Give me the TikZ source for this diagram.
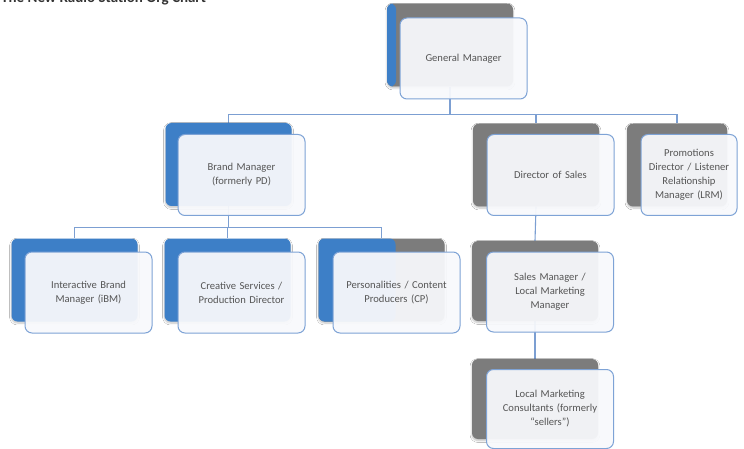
\documentclass[tikz,border=0pt]{standalone}
\usepackage{fontspec}
\setmainfont{Carlito}
\usetikzlibrary{backgrounds,shadows.blur}
\definecolor{bkblue}{HTML}{3D7FC7}
\definecolor{bkgray}{HTML}{7C7C7C}
\definecolor{frline}{HTML}{7EA3D6}
\definecolor{frfill}{HTML}{F8F9FC}
\definecolor{txt}{HTML}{555555}
\definecolor{conn}{HTML}{7C9FD2}
\tikzset{
  backbox/.style={rounded corners=6pt, minimum width=126pt, minimum height=83pt, inner sep=0pt,
    blur shadow={shadow xshift=0pt, shadow yshift=-1.5pt, shadow blur steps=6, shadow opacity=25}},
  bgray/.style={backbox, fill=bkgray},
  bblue/.style={backbox, fill=bkblue},
  frontbox/.style={draw=frline, line width=1pt, rounded corners=7pt, fill=frfill, fill opacity=0.94,
    text opacity=1, minimum width=127pt, minimum height=81pt, align=center, text width=118pt,
    inner sep=0pt, text=txt, font=\fontsize{10.6}{14}\selectfont},
  conline/.style={draw=conn, line width=1.1pt}
}
\begin{document}
\begin{tikzpicture}[x=1pt,y=-1pt]
\useasboundingbox (0,0) rectangle (744,449);
\node[anchor=base west, inner sep=0pt, text=black!80, font=\fontsize{15}{18}\selectfont\bfseries] (title) at (1,3) {The New Radio Station Org Chart};

% back boxes
\node[bgray, path picture={\fill[bkblue] (path picture bounding box.north west) rectangle ([xshift=9pt]path picture bounding box.south west);}] (gmb) at (450,45) {};
\node[bblue] (bmb) at (228.5,164.5) {};
\node[bgray] (dsb) at (536,165) {};
\node[bgray, minimum width=100pt] (prb) at (677,165) {};
\node[bblue] (ibb) at (74.5,280) {};
\node[bblue] (csb) at (227.5,280) {};
\node[bgray, path picture={\fill[bkblue] (path picture bounding box.north west) rectangle ([xshift=77pt]path picture bounding box.south west);}] (peb) at (381.5,280) {};
\node[bgray, minimum height=80pt] (smb) at (535,281) {};
\node[bgray, minimum height=80pt] (lmb) at (535,399) {};

% front boxes
\node[frontbox] (gm) at (463.5,58.5) {General Manager};
\node[frontbox] (bm) at (241.5,175) {Brand Manager\\(formerly PD)};
\node[frontbox] (ds) at (550.5,175) {Director of Sales};
\node[frontbox, minimum width=96pt, text width=94pt] (pr) at (689,175) {Promotions\\Director / Listener\\Relationship\\Manager (LRM)};
\node[frontbox] (ib) at (88.5,292.5) {Interactive Brand\\Manager (iBM)};
\node[frontbox] (cs) at (241.5,292.5) {Creative Services /\\Production Director};
\node[frontbox] (pe) at (396.5,292.5) {Personalities / Content\\Producers (CP)};
\node[frontbox, minimum height=80pt] (sm) at (550,292) {Sales Manager /\\Local Marketing\\Manager};
\node[frontbox, minimum height=79pt] (lm) at (550,409) {Local Marketing\\Consultants (formerly\\“sellers”)};

% connectors
\begin{pgfonlayer}{background}
\fill[white] (0,0) rectangle (744,449);
\draw[conline] (gmb.south) -- ++(0,28) coordinate (bar1) -| (bmb.north);
\draw[conline] (bar1) -| (dsb.north);
\draw[conline] (bar1) -| (prb.north);
\draw[conline] (bmb.south) -- ++(0,21.5) coordinate (bar2) -| (ibb.north);
\draw[conline] (bar2) -| (csb.north);
\draw[conline] (bar2) -| (peb.north);
\draw[conline] (dsb.south) -- (smb.north);
\draw[conline] (smb.south) -- (lmb.north);
\end{pgfonlayer}
\end{tikzpicture}
\end{document}
